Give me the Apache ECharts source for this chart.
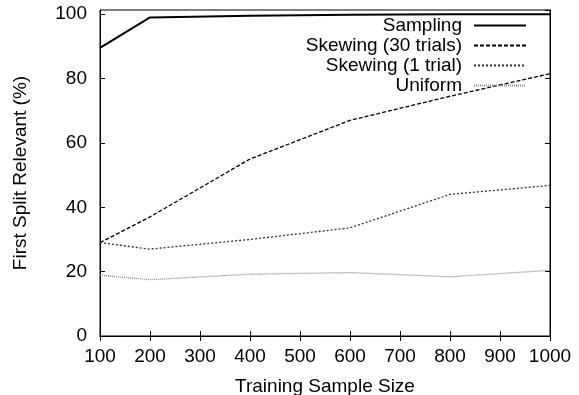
<!DOCTYPE html>
<html>
<head>
<meta charset="utf-8">
<script src="https://cdn.jsdelivr.net/npm/echarts@6/dist/echarts.min.js"></script>
<style>
  html, body { margin: 0; padding: 0; background: #fff; }
  #chart { width: 579px; height: 395px; }
</style>
</head>
<body>
<div id="chart"></div>
<script>
// data
const sampleSizes = [100, 200, 400, 600, 800, 1000];
const sampling = [89.5, 99, 99.5, 99.8, 100, 100];
const skewing30 = [29, 37, 55, 67, 74.5, 81.5];
const skewing1 = [29, 27, 30, 33.6, 44, 46.8];
const uniform = [18.9, 17.5, 19.2, 19.7, 18.4, 20.4];

const font = 'Liberation Sans, Arial, Helvetica, sans-serif';

const chart = echarts.init(document.getElementById('chart'));

function pairs(vals) {
  return sampleSizes.map((x, i) => [x, vals[i]]);
}

const mirrorTick = { show: true, inside: true, length: 5, lineStyle: { color: '#000' } };

chart.setOption({
  animation: false,
  backgroundColor: '#fff',
  grid: {
    left: 100, right: 29, top: 10, bottom: 59,
    containLabel: false, outerBoundsMode: 'none',
    show: true, borderColor: '#000', borderWidth: 1
  },
  legend: {
    orient: 'vertical',
    right: 52, top: 16,
    padding: 0,
    align: 'right',
    itemWidth: 52, itemHeight: 12, itemGap: 1,
    itemStyle: { opacity: 0 },
    textStyle: { fontFamily: font, fontSize: 19, color: '#000', lineHeight: 19, padding: [0, 7, 0, 0] },
    data: ['Sampling', 'Skewing (30 trials)', 'Skewing (1 trial)', 'Uniform']
  },
  xAxis: [{
    type: 'value', min: 100, max: 1000, interval: 100,
    name: 'Training Sample Size', nameLocation: 'middle', nameGap: 41,
    nameTextStyle: { fontFamily: font, fontSize: 19, color: '#000' },
    axisLine: { lineStyle: { color: '#000' } },
    axisTick: mirrorTick,
    axisLabel: { fontFamily: font, fontSize: 19, color: '#000', margin: 11, formatter: v => String(v) },
    splitLine: { show: false }
  }, {
    type: 'value', min: 100, max: 1000, interval: 100, position: 'top',
    axisLine: { lineStyle: { color: '#000' } },
    axisTick: mirrorTick, axisLabel: { show: false }, splitLine: { show: false }
  }],
  yAxis: [{
    type: 'value', min: 0, max: 101.3, interval: 20,
    name: 'First Split Relevant (%)', nameLocation: 'middle', nameGap: 70,
    nameTextStyle: { fontFamily: font, fontSize: 19, color: '#000' },
    axisLine: { lineStyle: { color: '#000' } },
    axisTick: mirrorTick,
    axisLabel: { fontFamily: font, fontSize: 19, color: '#000', margin: 13, showMaxLabel: false },
    splitLine: { show: false }
  }, {
    type: 'value', min: 0, max: 101.3, interval: 20, position: 'right',
    axisLine: { lineStyle: { color: '#000' } },
    axisTick: mirrorTick, axisLabel: { show: false }, splitLine: { show: false }
  }],
  series: [{
    name: 'Sampling', type: 'line', symbol: 'none',
    lineStyle: { color: '#000', width: 2 }, itemStyle: { color: '#000' },
    data: pairs(sampling)
  }, {
    name: 'Skewing (30 trials)', type: 'line', symbol: 'none',
    lineStyle: { color: '#000', width: 1.3, type: [4, 2] }, itemStyle: { color: '#000' },
    data: pairs(skewing30)
  }, {
    name: 'Skewing (1 trial)', type: 'line', symbol: 'none',
    lineStyle: { color: '#333', width: 1.3, type: [2, 2] }, itemStyle: { color: '#333' },
    data: pairs(skewing1)
  }, {
    name: 'Uniform', type: 'line', symbol: 'none',
    lineStyle: { color: '#888', width: 1.3, type: [1, 1] }, itemStyle: { color: '#888' },
    data: pairs(uniform)
  }]
});
</script>
</body>
</html>
